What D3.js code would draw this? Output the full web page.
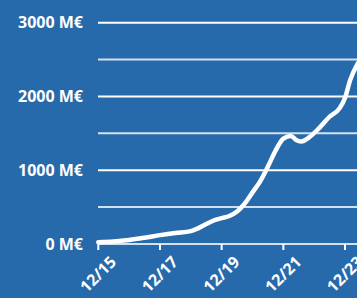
<!DOCTYPE html>
<html lang="en">
<head>
<meta charset="utf-8">
<title>M€ chart</title>
<script src="https://cdn.jsdelivr.net/npm/d3@7"></script>
<style>
  html, body { margin: 0; padding: 0; background: #276aab; }
  svg { display: block; }
  text { font-family: "Open Sans", sans-serif; font-weight: 700; fill: #fff; }
</style>
</head>
<body>
<svg id="chart" width="357" height="298"></svg>
<script>
// data (monthly points, M€)
var months = ["2015-12","2016-06","2016-12","2017-06","2017-12","2018-06","2018-12",
  "2019-03","2019-06","2019-09","2019-12","2020-03","2020-06","2020-09","2020-12",
  "2021-03","2021-06","2021-09","2021-12","2022-03","2022-05","2022-07","2022-10",
  "2023-02","2023-06","2023-10","2023-12","2024-02","2024-05"];
var values = [25, 35, 55, 85, 120, 150, 175,
  215, 270, 320, 350, 380, 440, 550, 700,
  850, 1050, 1270, 1430, 1465, 1410, 1390, 1445,
  1575, 1725, 1845, 1980, 2225, 2450];
var yTicks = [0, 500, 1000, 1500, 2000, 2500, 3000];
var xTickLabels = ["12/15", "12/17", "12/19", "12/21", "12/23"];

var parse = d3.timeParse("%Y-%m");
var fmt = d3.timeFormat("%m/%y");
var data = months.map(function(m, i) { return {date: parse(m), value: values[i]}; });

var svg = d3.select("#chart");

var x = d3.scaleTime()
  .domain([parse("2015-12"), parse("2023-12")])
  .range([98.3, 345]);
var y = d3.scaleLinear()
  .domain([0, 3000])
  .range([244, 22.7]);

// grid lines
svg.append("g").selectAll("line")
  .data(yTicks).enter().append("line")
  .attr("x1", 98).attr("x2", 357)
  .attr("y1", function(d) { return y(d); })
  .attr("y2", function(d) { return y(d); })
  .attr("stroke", function(d) { return d % 1000 == 0 && d > 0 ? "#ffffff" : "#d3e0ee"; })
  .attr("stroke-width", 2);

// y labels
svg.append("g").selectAll("text")
  .data(yTicks.filter(function(d) { return d % 1000 == 0; }))
  .enter().append("text")
  .attr("x", 83)
  .attr("y", function(d) { return y(d); })
  .attr("dy", "0.36em")
  .attr("text-anchor", "end")
  .attr("font-size", 16)
  .text(function(d) { return d + " M€"; });

// x ticks + labels
var xTicks = xTickLabels.map(function(t) { return d3.timeParse("%m/%y")(t); });
var xt = svg.append("g").selectAll("g")
  .data(xTicks).enter().append("g")
  .attr("transform", function(d) { return "translate(" + x(d) + ",0)"; });
xt.append("line")
  .attr("y1", 244).attr("y2", 250)
  .attr("stroke", "#fff").attr("stroke-width", 2);
xt.append("text")
  .attr("transform", "translate(19,263) rotate(-45)")
  .attr("text-anchor", "end")
  .attr("font-size", 16)
  .text(function(d) { return fmt(d); });

// line
var line = d3.line()
  .x(function(d) { return x(d.date); })
  .y(function(d) { return y(d.value); })
  .curve(d3.curveMonotoneX);

svg.append("path")
  .datum(data)
  .attr("d", line)
  .attr("fill", "none")
  .attr("stroke", "#fff")
  .attr("stroke-width", 4.5)
  .attr("stroke-linecap", "round")
  .attr("stroke-linejoin", "round");
</script>
</body>
</html>
